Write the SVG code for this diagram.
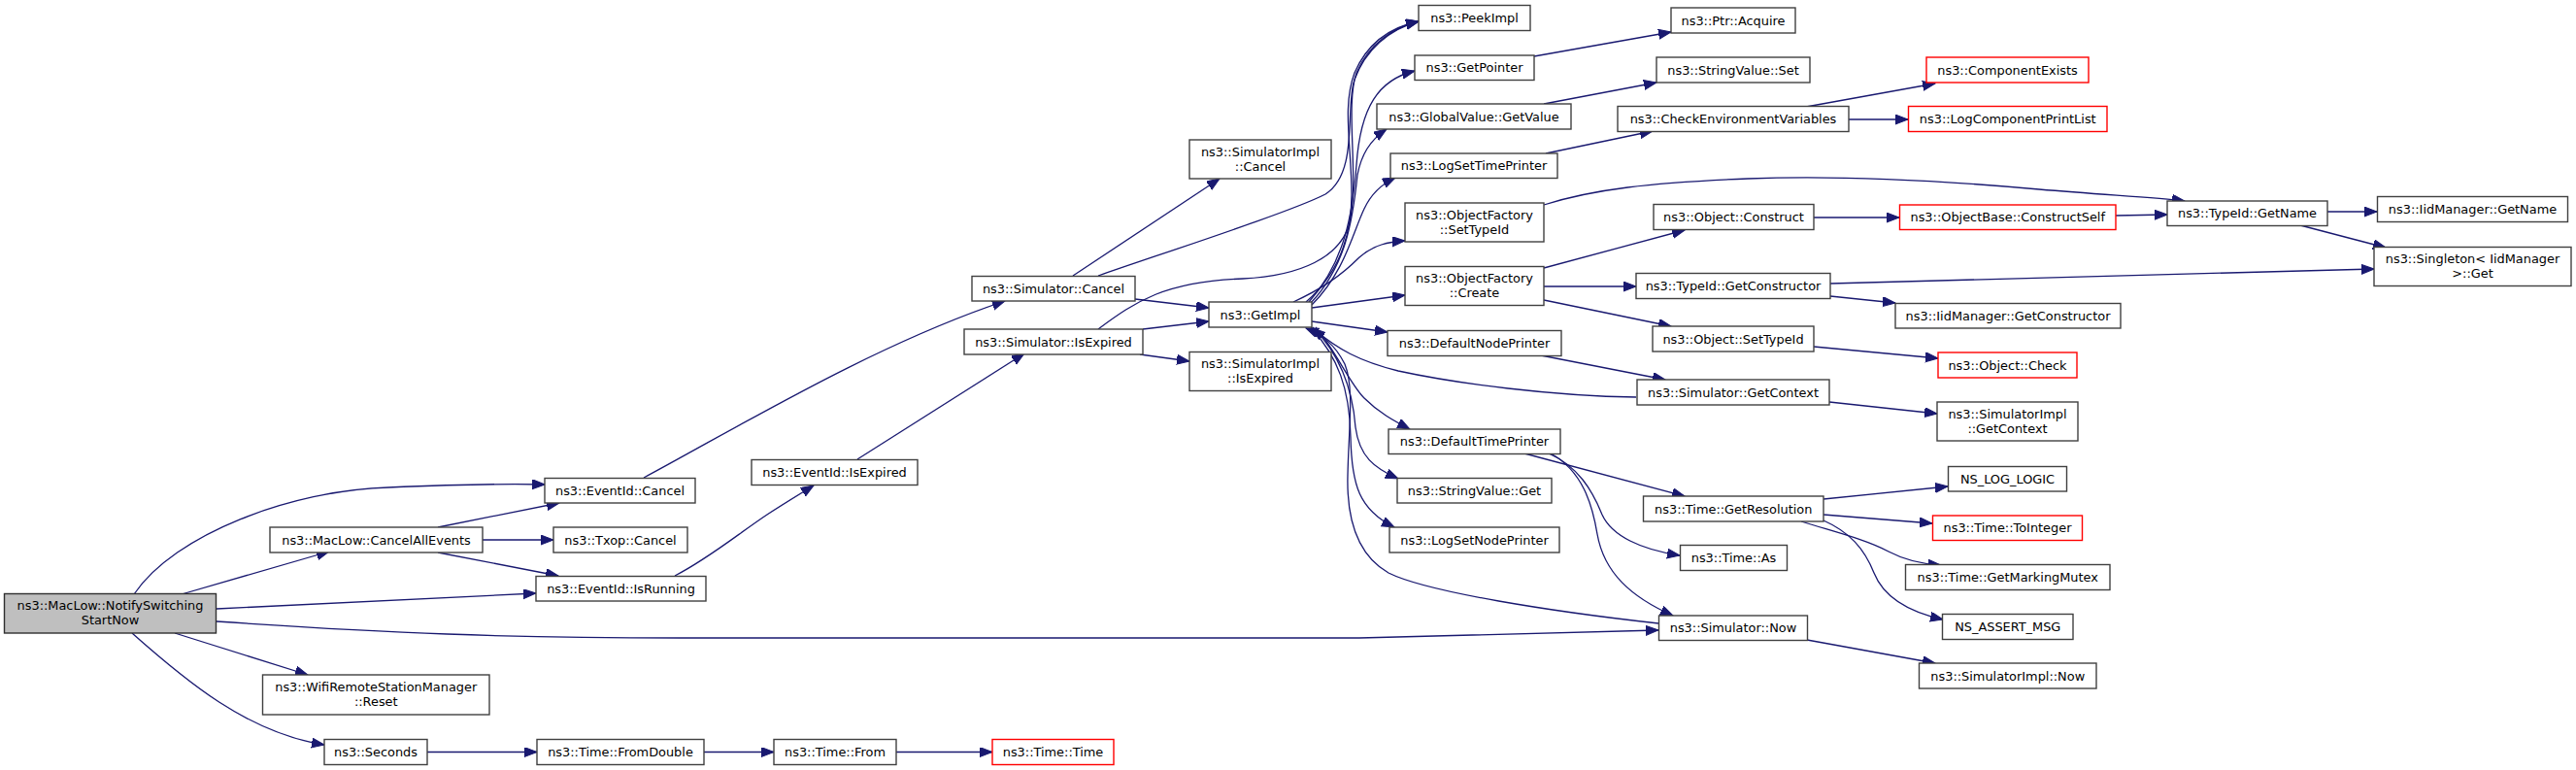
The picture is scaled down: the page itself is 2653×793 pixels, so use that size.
<svg xmlns="http://www.w3.org/2000/svg" width="2653" height="793" viewBox="0 0 2653 793">
<defs>
<marker id="arr" markerUnits="userSpaceOnUse" markerWidth="14" markerHeight="11" refX="13" refY="5" orient="auto">
<path d="M0,0 L13,5 L0,10 Z" fill="#191970" stroke="#191970" stroke-width="1"/>
</marker>
<style>
.n rect{fill:#ffffff;stroke:#404040;stroke-width:1.4}
.n.main rect{fill:#bfbfbf;stroke:#303030}
.n.red rect{stroke:#ff0000}
.n text{font-family:"DejaVu Sans","Liberation Sans",sans-serif;font-size:12.9px;fill:#000;text-anchor:middle}
#edges path{fill:none;stroke:#191970;stroke-width:1.3;marker-end:url(#arr)}
</style>
</defs>
<rect width="2653" height="793" fill="#ffffff"/>
<g id="edges">
<path d="M138,612 C180,550 300,505 400,502 C470,499 520,498 561,499"/>
<path d="M187,612 L339,568"/>
<path d="M223,627 L552,611"/>
<path d="M223,640 C400,652 520,657 700,657 L1400,657 C1500,655 1600,652 1708,649"/>
<path d="M180,652 L317,695"/>
<path d="M136,652 C190,700 255,755 334,767"/>
<path d="M451,543 L576,518"/>
<path d="M497,556 L570,556"/>
<path d="M451,569 L575,593"/>
<path d="M663,492 C760,440 900,355 1035,310"/>
<path d="M695,593 C730,575 760,550 790,530 C810,517 825,508 838,500"/>
<path d="M883,473 L1055,364"/>
<path d="M1105,284 L1256,184"/>
<path d="M1131,284 C1200,260 1330,218 1365,200 C1400,178 1385,110 1395,82 C1406,52 1430,30 1461,22"/>
<path d="M1131,339 C1170,310 1200,290 1280,287 C1340,284 1380,265 1390,230 C1400,180 1385,110 1397,75 C1410,45 1435,28 1461,22"/>
<path d="M1345,311 C1375,285 1392,250 1392,200 C1392,150 1382,110 1395,75 C1408,45 1432,28 1461,22"/>
<path d="M1348,311 C1385,270 1393,220 1397,170 C1401,110 1420,82 1457,73"/>
<path d="M1350,312 C1385,275 1393,230 1398,180 C1402,160 1410,145 1428,133"/>
<path d="M1351,314 C1385,280 1393,240 1405,215 C1412,200 1422,190 1437,183"/>
<path d="M1332,311 C1360,298 1380,285 1400,265 C1415,252 1430,249 1447,248"/>
<path d="M1351,317 L1447,304"/>
<path d="M1351,331 L1429,342"/>
<path d="M1169,308 L1245,317"/>
<path d="M1177,339 L1245,331"/>
<path d="M1174,365 L1225,372"/>
<path d="M1355,337 C1375,360 1390,395 1405,410 C1420,425 1435,433 1452,442"/>
<path d="M1352,337 C1380,365 1393,400 1396,440 C1400,470 1415,482 1440,493"/>
<path d="M1350,337 C1378,368 1390,400 1391,450 C1392,500 1400,525 1436,543"/>
<path d="M1685,409 C1600,408 1500,395 1440,382 C1400,372 1378,360 1352,338"/>
<path d="M1708,642 C1600,630 1470,610 1430,590 C1395,570 1387,530 1388,490 C1389,440 1395,400 1385,375 C1375,355 1362,345 1345,338"/>
<path d="M1587,366 L1715,391"/>
<path d="M1570,467 L1735,511"/>
<path d="M1595,467 C1625,480 1640,505 1650,530 C1660,552 1690,566 1730,572"/>
<path d="M1597,467 C1630,485 1640,520 1645,550 C1652,590 1680,615 1723,634"/>
<path d="M1861,659 L1993,683"/>
<path d="M1884,414 L1995,426"/>
<path d="M1878,514 L2006,501"/>
<path d="M1878,530 L1990,539"/>
<path d="M1855,537 C1890,548 1920,555 1945,568 C1962,577 1980,581 1999,582"/>
<path d="M1878,536 C1905,548 1920,565 1930,590 C1940,615 1965,630 2001,638"/>
<path d="M1580,58 L1721,33"/>
<path d="M1590,107 L1706,85"/>
<path d="M1592,158 L1702,135"/>
<path d="M1860,110 L1993,86"/>
<path d="M1904,123 L1965,123"/>
<path d="M1590,211 C1640,195 1700,188 1800,184 C1900,180 2000,186 2100,195 C2170,201 2220,203 2250,207"/>
<path d="M1590,276 L1735,237"/>
<path d="M1590,295 L1685,295"/>
<path d="M1590,309 L1721,336"/>
<path d="M1868,224 L1956,224"/>
<path d="M2179,222 L2232,221"/>
<path d="M2397,218 L2448,218"/>
<path d="M2369,232 L2457,255"/>
<path d="M1885,292 L2445,277"/>
<path d="M1885,305 L1952,312"/>
<path d="M1868,357 L1996,369"/>
<path d="M440,774.5 L553,774.5"/>
<path d="M725,774.5 L797,774.5"/>
<path d="M923,774.5 L1022,774.5"/>
</g>
<g id="n1" class="n main"><rect x="4.5" y="611.5" width="218" height="40.5"/><text x="113.5" y="628">ns3::MacLow::NotifySwitching</text><text x="113.5" y="643">StartNow</text></g>
<g id="n2" class="n"><rect x="561" y="492.5" width="155" height="25.5"/><text x="638.5" y="509.8">ns3::EventId::Cancel</text></g>
<g id="n3" class="n"><rect x="278" y="543" width="219" height="26"/><text x="387.5" y="560.6">ns3::MacLow::CancelAllEvents</text></g>
<g id="n4" class="n"><rect x="570" y="543" width="138" height="26"/><text x="639" y="560.6">ns3::Txop::Cancel</text></g>
<g id="n5" class="n"><rect x="552" y="593.5" width="175" height="25.5"/><text x="639.5" y="610.8">ns3::EventId::IsRunning</text></g>
<g id="n6" class="n"><rect x="270.5" y="695" width="233.5" height="41"/><text x="387.25" y="712">ns3::WifiRemoteStationManager</text><text x="387.25" y="727">::Reset</text></g>
<g id="n7" class="n"><rect x="334" y="761.5" width="106" height="26"/><text x="387" y="779.1">ns3::Seconds</text></g>
<g id="n8" class="n"><rect x="553" y="761.5" width="172" height="26"/><text x="639" y="779.1">ns3::Time::FromDouble</text></g>
<g id="n9" class="n"><rect x="797" y="761.5" width="126" height="26"/><text x="860" y="779.1">ns3::Time::From</text></g>
<g id="n10" class="n red"><rect x="1022" y="761.5" width="125" height="26"/><text x="1084.5" y="779.1">ns3::Time::Time</text></g>
<g id="n11" class="n"><rect x="774" y="473.5" width="171" height="26"/><text x="859.5" y="491.1">ns3::EventId::IsExpired</text></g>
<g id="n12" class="n"><rect x="1001" y="284.5" width="168" height="25.5"/><text x="1085" y="301.8">ns3::Simulator::Cancel</text></g>
<g id="n13" class="n"><rect x="993" y="339" width="184" height="26"/><text x="1085" y="356.6">ns3::Simulator::IsExpired</text></g>
<g id="n14" class="n"><rect x="1225" y="144" width="146" height="40"/><text x="1298" y="160.5">ns3::SimulatorImpl</text><text x="1298" y="175.5">::Cancel</text></g>
<g id="n15" class="n"><rect x="1225" y="362.5" width="146" height="40"/><text x="1298" y="379">ns3::SimulatorImpl</text><text x="1298" y="394">::IsExpired</text></g>
<g id="n16" class="n"><rect x="1245" y="311" width="106" height="26"/><text x="1298" y="328.6">ns3::GetImpl</text></g>
<g id="n17" class="n"><rect x="1461" y="5.5" width="115" height="26"/><text x="1518.5" y="23.1">ns3::PeekImpl</text></g>
<g id="n18" class="n"><rect x="1457" y="57" width="123" height="25.5"/><text x="1518.5" y="74.35">ns3::GetPointer</text></g>
<g id="n19" class="n"><rect x="1418" y="107" width="200" height="26"/><text x="1518" y="124.6">ns3::GlobalValue::GetValue</text></g>
<g id="n20" class="n"><rect x="1432" y="158" width="172" height="25.5"/><text x="1518" y="175.35">ns3::LogSetTimePrinter</text></g>
<g id="n21" class="n"><rect x="1447" y="209" width="143" height="40"/><text x="1518.5" y="225.5">ns3::ObjectFactory</text><text x="1518.5" y="240.5">::SetTypeId</text></g>
<g id="n22" class="n"><rect x="1447" y="274.5" width="143" height="40"/><text x="1518.5" y="291">ns3::ObjectFactory</text><text x="1518.5" y="306">::Create</text></g>
<g id="n23" class="n"><rect x="1429" y="340.5" width="179" height="26"/><text x="1518.5" y="358.1">ns3::DefaultNodePrinter</text></g>
<g id="n24" class="n"><rect x="1430" y="442" width="177" height="25.5"/><text x="1518.5" y="459.35">ns3::DefaultTimePrinter</text></g>
<g id="n25" class="n"><rect x="1439" y="492.5" width="159" height="25.5"/><text x="1518.5" y="509.85">ns3::StringValue::Get</text></g>
<g id="n26" class="n"><rect x="1431" y="543" width="175" height="26"/><text x="1518.5" y="560.6">ns3::LogSetNodePrinter</text></g>
<g id="n27" class="n"><rect x="1721" y="8" width="128" height="26"/><text x="1785" y="25.6">ns3::Ptr::Acquire</text></g>
<g id="n28" class="n"><rect x="1706" y="59" width="158" height="26"/><text x="1785" y="76.6">ns3::StringValue::Set</text></g>
<g id="n29" class="n"><rect x="1666" y="109.5" width="238" height="26"/><text x="1785" y="127.1">ns3::CheckEnvironmentVariables</text></g>
<g id="n30" class="n"><rect x="1703" y="210.5" width="165" height="26"/><text x="1785.5" y="228.1">ns3::Object::Construct</text></g>
<g id="n31" class="n"><rect x="1685" y="281.5" width="200" height="26"/><text x="1785" y="299.1">ns3::TypeId::GetConstructor</text></g>
<g id="n32" class="n"><rect x="1702" y="336" width="166" height="26"/><text x="1785" y="353.6">ns3::Object::SetTypeId</text></g>
<g id="n33" class="n"><rect x="1686" y="391" width="198" height="26"/><text x="1785" y="408.6">ns3::Simulator::GetContext</text></g>
<g id="n34" class="n"><rect x="1692.5" y="511" width="185.5" height="26"/><text x="1785.25" y="528.6">ns3::Time::GetResolution</text></g>
<g id="n35" class="n"><rect x="1730.5" y="561.5" width="110" height="26"/><text x="1785.5" y="579.1">ns3::Time::As</text></g>
<g id="n36" class="n"><rect x="1708.5" y="634" width="153" height="25.5"/><text x="1785" y="651.35">ns3::Simulator::Now</text></g>
<g id="n37" class="n red"><rect x="1984" y="59" width="167" height="26"/><text x="2067.5" y="76.6">ns3::ComponentExists</text></g>
<g id="n38" class="n red"><rect x="1965.5" y="109.5" width="204.5" height="26"/><text x="2067.75" y="127.1">ns3::LogComponentPrintList</text></g>
<g id="n39" class="n red"><rect x="1956.5" y="211" width="222.5" height="25.5"/><text x="2067.75" y="228.35">ns3::ObjectBase::ConstructSelf</text></g>
<g id="n40" class="n"><rect x="2232" y="207" width="165" height="25.5"/><text x="2314.5" y="224.35">ns3::TypeId::GetName</text></g>
<g id="n41" class="n"><rect x="2448.5" y="202.5" width="196" height="26"/><text x="2546.5" y="220.1">ns3::IidManager::GetName</text></g>
<g id="n42" class="n"><rect x="2445" y="254.5" width="203" height="40"/><text x="2546.5" y="271">ns3::Singleton&lt; IidManager</text><text x="2546.5" y="286">&gt;::Get</text></g>
<g id="n43" class="n"><rect x="1952" y="312.5" width="232" height="25.5"/><text x="2068" y="329.85">ns3::IidManager::GetConstructor</text></g>
<g id="n44" class="n red"><rect x="1996" y="363" width="143" height="26"/><text x="2067.5" y="380.6">ns3::Object::Check</text></g>
<g id="n45" class="n"><rect x="1995" y="414" width="145" height="40"/><text x="2067.5" y="430.5">ns3::SimulatorImpl</text><text x="2067.5" y="445.5">::GetContext</text></g>
<g id="n46" class="n"><rect x="2006.5" y="480.5" width="122" height="25.5"/><text x="2067.5" y="497.85">NS_LOG_LOGIC</text></g>
<g id="n47" class="n red"><rect x="1990.5" y="531" width="154" height="25.5"/><text x="2067.5" y="548.35">ns3::Time::ToInteger</text></g>
<g id="n48" class="n"><rect x="1962.5" y="581.5" width="210.5" height="26"/><text x="2067.75" y="599.1">ns3::Time::GetMarkingMutex</text></g>
<g id="n49" class="n"><rect x="2000.5" y="632.5" width="134.5" height="26"/><text x="2067.75" y="650.1">NS_ASSERT_MSG</text></g>
<g id="n50" class="n"><rect x="1976.5" y="683" width="182.5" height="26"/><text x="2067.75" y="700.6">ns3::SimulatorImpl::Now</text></g>
</svg>
